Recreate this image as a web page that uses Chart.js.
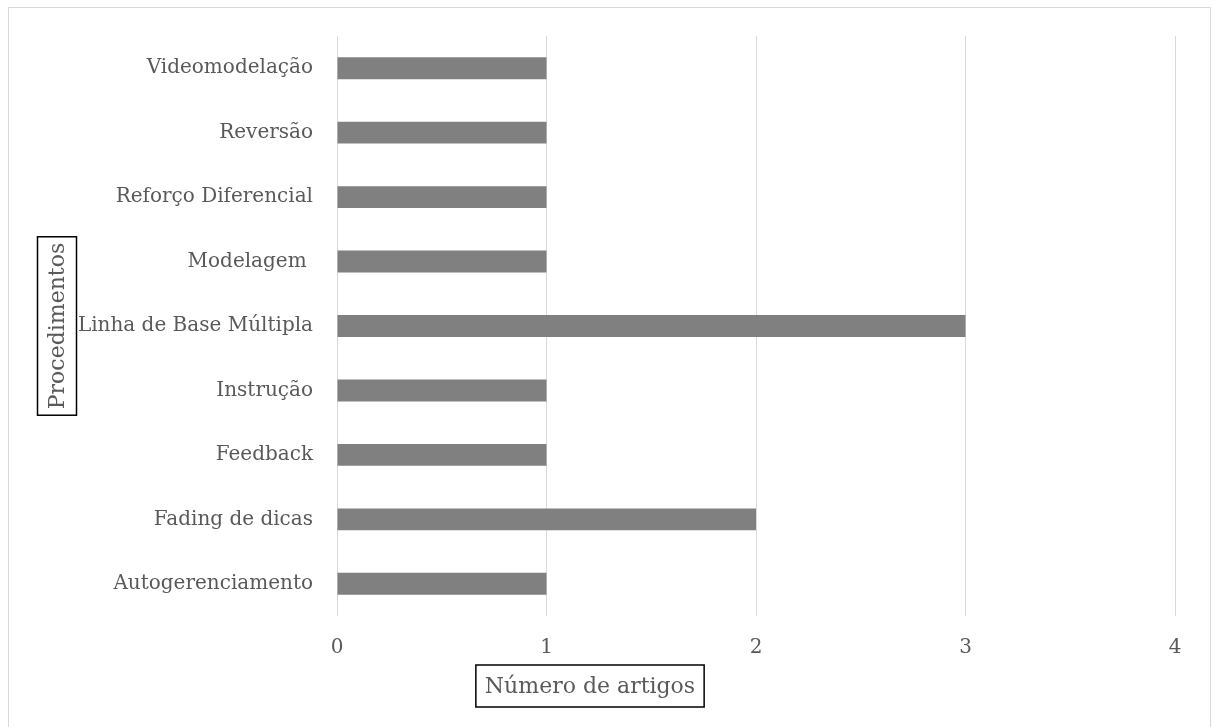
<!DOCTYPE html>
<html>
<head>
<meta charset="utf-8">
<script src="https://cdn.jsdelivr.net/npm/chart.js@4"></script>
<style>
  html, body { margin: 0; padding: 0; background: #fff; }
  #wrap { position: absolute; left: 0; top: 0; width: 1214px; height: 727px; }
</style>
</head>
<body>
<div id="wrap"><canvas id="procChart"></canvas></div>
<script>
// Procedimentos x número de artigos (listed top to bottom)
const procedures = ['Videomodelação', 'Reversão', 'Reforço Diferencial', 'Modelagem ', 'Linha de Base Múltipla', 'Instrução', 'Feedback', 'Fading de dicas', 'Autogerenciamento'];
const articleCounts = [1, 1, 1, 1, 3, 1, 1, 2, 1];
const xTicks = [0, 1, 2, 3, 4];
const xTitle = 'Número de artigos';
const yTitle = 'Procedimentos';

const FONT = '"DejaVu Serif", serif';
const textColor = '#595959';
const gridColor = '#d9d9d9';

const boxedTitles = {
    id: 'boxedTitles',
    beforeDraw: (chart) => {
        const c = chart.ctx;
        c.save();
        c.strokeStyle = gridColor;
        c.lineWidth = 1;
        c.strokeRect(8.5, 7.5, 1202, 740);
        c.restore();
    },
    afterDraw: (chart) => {
        const { ctx: c, chartArea } = chart;
        c.save();
        c.font = '22px ' + FONT;
        c.fillStyle = textColor;
        c.textAlign = 'center';
        c.textBaseline = 'middle';
        c.strokeStyle = '#000';
        c.lineWidth = 1.5;

        // x title
        const xw = c.measureText(xTitle).width;
        const xc = 590, yc = 686;
        c.strokeRect(xc - xw / 2 - 9, yc - 21, xw + 18, 42);
        c.fillText(xTitle, xc, yc + 1);

        // y title (rotated)
        const yw = c.measureText(yTitle).width;
        const cx = 57, cy = (chartArea.top + chartArea.bottom) / 2;
        c.strokeRect(cx - 19.5, cy - yw / 2 - 6, 39, yw + 12);
        c.translate(cx, cy);
        c.rotate(-Math.PI / 2);
        c.fillText(yTitle, 0, 1);
        c.restore();
    }
};

new Chart(document.getElementById('procChart').getContext('2d'), {
    type: 'bar',
    data: {
        labels: procedures,
        datasets: [{
            label: xTitle,
            data: articleCounts,
            backgroundColor: '#808080',
            borderWidth: 0,
            categoryPercentage: 1,
            barPercentage: 0.34
        }]
    },
    options: {
        indexAxis: 'y',
        responsive: true, maintainAspectRatio: false,
        animation: false,
        layout: { padding: { top: 36, right: 39, bottom: 0, left: 0 } },
        plugins: { legend: { display: false }, tooltip: { enabled: false } },
        scales: {
            x: {
                min: 0, max: 4,
                afterBuildTicks: s => { s.ticks = xTicks.map(v => ({ value: v })); },
                afterFit: s => { s.height = 727 - 616; },
                border: { display: false },
                grid: { color: gridColor, lineWidth: 1, drawTicks: false },
                ticks: { color: textColor, font: { family: FONT, size: 20 }, padding: 20 }
            },
            y: {
                afterFit: s => { s.width = 337; },
                border: { display: false },
                grid: { display: false, drawTicks: false },
                ticks: { color: textColor, font: { family: FONT, size: 20 }, padding: 24 }
            }
        }
    },
    plugins: [boxedTitles]
});
</script>
</body>
</html>
